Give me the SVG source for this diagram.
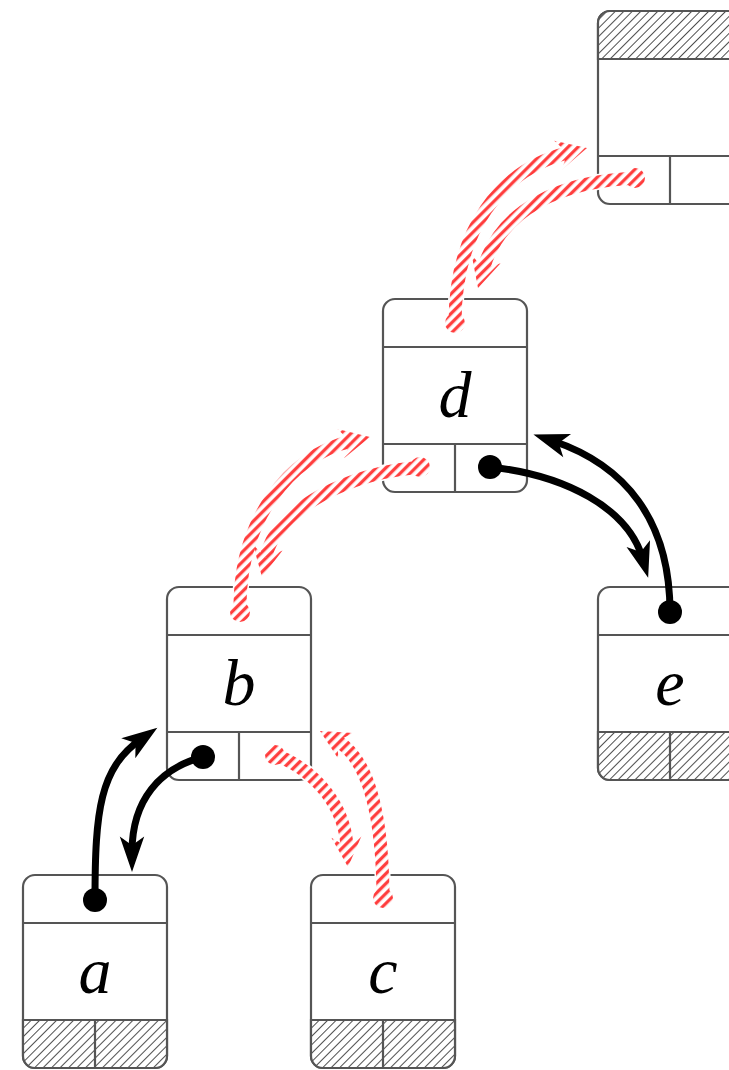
<svg xmlns="http://www.w3.org/2000/svg" width="729" height="1070" viewBox="0 0 729 1070">
<style>
.box{fill:#fff;stroke:#555;stroke-width:2.2}
.ln{fill:none;stroke:#555;stroke-width:2.2}
.hatch{fill:url(#gh);stroke:#555;stroke-width:2.2}
.lbl{font-family:"Liberation Serif",serif;font-style:italic;font-size:66px;fill:#000;text-anchor:middle}
.blk{fill:none;stroke:#000;stroke-width:7}
.dot{fill:#000}
.rw{fill:none;stroke:#fff;stroke-width:16}
.rh{fill:none;stroke:url(#rh);stroke-width:13}
.rhw{fill:#fff;stroke:#fff;stroke-width:2}
.rhf{fill:url(#rh)}
</style>
<defs>
<pattern id="gh" width="6" height="6" patternUnits="userSpaceOnUse" patternTransform="rotate(45)">
<rect width="6" height="6" fill="#fff"/>
<line x1="0" y1="0" x2="0" y2="6" stroke="#222" stroke-width="1.6"/>
</pattern>
<pattern id="rh" width="7" height="7" patternUnits="userSpaceOnUse" patternTransform="rotate(45)">
<rect width="7" height="7" fill="#fff"/>
<line x1="1.7" y1="0" x2="1.7" y2="7" stroke="#ff3b3b" stroke-width="3.2"/>
</pattern>
<marker id="ah" markerUnits="userSpaceOnUse" orient="auto" markerWidth="40" markerHeight="30" viewBox="-16 -13 36 26" refX="0" refY="0">
<path d="M18,0 L-14,-11 L-6,0 L-14,11 Z" fill="#000"/>
</marker>
</defs>

<g id="root" transform="translate(598,11)">
<rect class="box" x="0" y="0" width="144" height="193" rx="12"/>
<path class="hatch" d="M0,48 V12 A12,12 0 0 1 12,0 H132 A12,12 0 0 1 144,12 V48 Z"/>
<line class="ln" x1="0" y1="145" x2="144" y2="145"/>
<line class="ln" x1="72" y1="145" x2="72" y2="193"/>
</g>

<g id="node-d" transform="translate(383,299)">
<rect class="box" x="0" y="0" width="144" height="193" rx="12"/>
<line class="ln" x1="0" y1="48" x2="144" y2="48"/>
<line class="ln" x1="0" y1="145" x2="144" y2="145"/>
<line class="ln" x1="72" y1="145" x2="72" y2="193"/>
<text class="lbl" x="72" y="118">d</text>
</g>

<g id="node-b" transform="translate(167,587)">
<rect class="box" x="0" y="0" width="144" height="193" rx="12"/>
<line class="ln" x1="0" y1="48" x2="144" y2="48"/>
<line class="ln" x1="0" y1="145" x2="144" y2="145"/>
<line class="ln" x1="72" y1="145" x2="72" y2="193"/>
<text class="lbl" x="72" y="118">b</text>
</g>

<g id="node-e" transform="translate(598,587)">
<rect class="box" x="0" y="0" width="144" height="193" rx="12"/>
<line class="ln" x1="0" y1="48" x2="144" y2="48"/>
<path class="hatch" d="M0,145 V181 A12,12 0 0 0 12,193 H132 A12,12 0 0 0 144,181 V145 Z"/>
<line class="ln" x1="72" y1="145" x2="72" y2="193"/>
<text class="lbl" x="72" y="118">e</text>
</g>

<g id="node-a" transform="translate(23,875)">
<rect class="box" x="0" y="0" width="144" height="193" rx="12"/>
<line class="ln" x1="0" y1="48" x2="144" y2="48"/>
<path class="hatch" d="M0,145 V181 A12,12 0 0 0 12,193 H132 A12,12 0 0 0 144,181 V145 Z"/>
<line class="ln" x1="72" y1="145" x2="72" y2="193"/>
<text class="lbl" x="72" y="118">a</text>
</g>

<g id="node-c" transform="translate(311,875)">
<rect class="box" x="0" y="0" width="144" height="193" rx="12"/>
<line class="ln" x1="0" y1="48" x2="144" y2="48"/>
<path class="hatch" d="M0,145 V181 A12,12 0 0 0 12,193 H132 A12,12 0 0 0 144,181 V145 Z"/>
<line class="ln" x1="72" y1="145" x2="72" y2="193"/>
<text class="lbl" x="72" y="118">c</text>
</g>

<g id="connectors">
<g id="red-links">
<path class="rw" d="M640,178 C560,180 500,210 483.4,268.8"/>
<path class="rw" d="M455,323 C455,230 500,170 567.6,152.9"/>
<path class="rw" d="M427,467 C350,470 275,510 265.8,557.4"/>
<path class="rw" d="M240,613 C238,520 290,455 350.5,441.4"/>
<path class="rw" d="M268,752 C320,770 345,810 347,847"/>
<path class="rw" d="M383,900 C383,820 370,760 337.3,741"/>
<circle cx="635" cy="178" r="12" fill="#fff"/>
<circle cx="455" cy="323" r="12" fill="#fff"/>
<circle cx="420" cy="467" r="12" fill="#fff"/>
<circle cx="240" cy="612" r="12" fill="#fff"/>
<circle cx="275" cy="755" r="12" fill="#fff"/>
<circle cx="383" cy="898" r="12" fill="#fff"/>
<polygon class="rhw" points="478,288 500.6,263.2 483.4,268.8 471.7,255.1"/>
<polygon class="rhw" points="587,148 561.6,169.9 567.6,152.9 554.2,140.8"/>
<polygon class="rhw" points="262,577 282.5,550.4 265.8,557.4 253,544.7"/>
<polygon class="rhw" points="370,437 344,458.2 350.5,441.4 337.4,429"/>
<polygon class="rhw" points="348,867 361.4,836.3 347,847 331.4,837.8"/>
<polygon class="rhw" points="320,731 353.5,733.1 337.3,741 338.4,759"/>
<path class="rh" d="M640,178 C560,180 500,210 483.4,268.8"/>
<path class="rh" d="M455,323 C455,230 500,170 567.6,152.9"/>
<path class="rh" d="M427,467 C350,470 275,510 265.8,557.4"/>
<path class="rh" d="M240,613 C238,520 290,455 350.5,441.4"/>
<path class="rh" d="M268,752 C320,770 345,810 347,847"/>
<path class="rh" d="M383,900 C383,820 370,760 337.3,741"/>
<circle cx="635" cy="178" r="10" fill="url(#rh)"/>
<circle cx="455" cy="323" r="10" fill="url(#rh)"/>
<circle cx="420" cy="467" r="10" fill="url(#rh)"/>
<circle cx="240" cy="612" r="10" fill="url(#rh)"/>
<circle cx="275" cy="755" r="10" fill="url(#rh)"/>
<circle cx="383" cy="898" r="10" fill="url(#rh)"/>
<polygon class="rhf" points="478,288 500.6,263.2 483.4,268.8 471.7,255.1"/>
<polygon class="rhf" points="587,148 561.6,169.9 567.6,152.9 554.2,140.8"/>
<polygon class="rhf" points="262,577 282.5,550.4 265.8,557.4 253,544.7"/>
<polygon class="rhf" points="370,437 344,458.2 350.5,441.4 337.4,429"/>
<polygon class="rhf" points="348,867 361.4,836.3 347,847 331.4,837.8"/>
<polygon class="rhf" points="320,731 353.5,733.1 337.3,741 338.4,759"/>
</g>
<g id="black-links">
<path class="blk" marker-end="url(#ah)" d="M490,467 C565,475 628,508 642.6,558.5"/>
<path class="blk" marker-end="url(#ah)" d="M670,612 C670,520 625,465 552.4,440.8"/>
<path class="blk" marker-end="url(#ah)" d="M203,757 C160,768 132,800 132,852"/>
<path class="blk" marker-end="url(#ah)" d="M95,900 C95,810 100,768 141,739.2"/>
<circle class="dot" cx="490" cy="467" r="12"/>
<circle class="dot" cx="670" cy="612" r="12"/>
<circle class="dot" cx="203" cy="757" r="12"/>
<circle class="dot" cx="95" cy="900" r="12"/>
</g>
</g>
</svg>
